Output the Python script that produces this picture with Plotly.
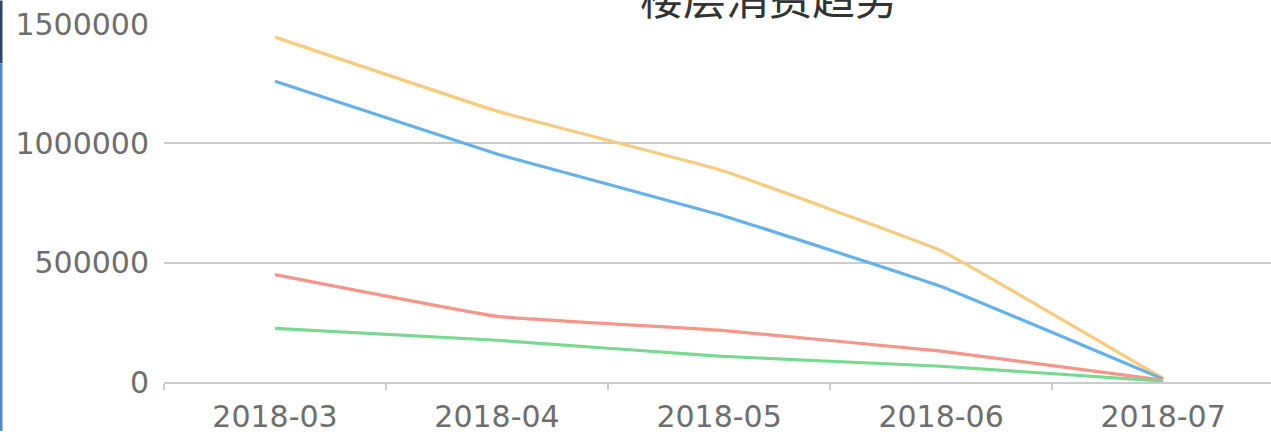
import plotly.graph_objects as go

months = ["2018-03", "2018-04", "2018-05", "2018-06", "2018-07"]
series_names = ["一楼", "二楼", "三楼", "四楼"]
floor_yellow = [1445000, 1135000, 890000, 550000, 15000]
floor_blue = [1260000, 955000, 702000, 400000, 12000]
floor_red = [450000, 275000, 217000, 129000, 8000]
floor_green = [225000, 175000, 108000, 66000, 4000]
y_ticks = [0, 500000, 1000000, 1500000]

colors = ["#f8cb7f", "#63b2ee", "#f89588", "#76da91"]
values = [floor_yellow, floor_blue, floor_red, floor_green]

fig = go.Figure()
for name, vals, c in zip(series_names, values, colors):
    fig.add_trace(go.Scatter(
        x=months, y=vals, mode="lines", name=name,
        line=dict(color=c, width=3.2, shape="spline", smoothing=0.25)
    ))

tick_font = dict(family="DejaVu Sans, Verdana, sans-serif", size=30, color="#6e6e6e")
plot_h = 366

fig.update_layout(
    width=1271, height=434,
    margin=dict(l=164, r=0, t=24, b=44),
    plot_bgcolor="white", paper_bgcolor="white",
    showlegend=False,
    xaxis=dict(
        type="category", range=[-0.5, 4.486],
        showgrid=False, showline=True, linecolor="#cccccc", linewidth=2,
        ticks="outside", tickson="boundaries", ticklen=6, tickcolor="#cccccc", tickwidth=2,
        tickfont=tick_font, ticklabelstandoff=7,
    ),
    yaxis=dict(
        range=[0, 1500000], tickvals=y_ticks, tickformat="d",
        showgrid=True, gridcolor="#cccccc", gridwidth=2,
        showline=False, zeroline=False,
        tickfont=tick_font, ticklabelstandoff=14,
    ),
    annotations=[dict(
        text="楼层消费趋势", xref="paper", yref="paper",
        x=(769 - 164) / 1107, y=1 + 29 / plot_h, xanchor="center", yanchor="middle",
        showarrow=False, font=dict(family="Noto Sans CJK SC", size=43, color="#333333"),
    )],
    shapes=[
        dict(type="line", xref="paper", yref="paper", x0=-163 / 1107, x1=-163 / 1107,
             y0=1 + 24 / plot_h, y1=1 - 40 / plot_h, line=dict(color="#2f4466", width=3)),
        dict(type="line", xref="paper", yref="paper", x0=-163 / 1107, x1=-163 / 1107,
             y0=1 - 40 / plot_h, y1=-50 / plot_h, line=dict(color="#5b87c4", width=3)),
    ],
)

fig.write_html("out.html", config={"displayModeBar": False},
               post_script="document.body.style.margin='0';")
